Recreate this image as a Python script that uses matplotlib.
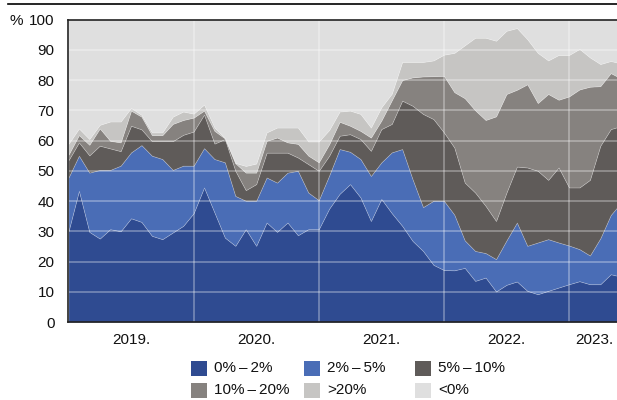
import numpy as np
import matplotlib
matplotlib.use("Agg")
import matplotlib.pyplot as plt
from matplotlib.patches import Rectangle
from matplotlib.lines import Line2D

plt.rcParams['font.family'] = ['Liberation Sans', 'DejaVu Sans']

# monthly observations, Jan 2019 .. Jun 2023
# cumulative level (%) at the top of each band, as read from the chart
top_0_2 = [30, 43.4, 29.8, 27.6, 30.7, 30, 34.3, 33.1, 28.5, 27.4, 29.6, 31.8,
           36, 44.5, 36.2, 27.9, 25.2, 30.7, 25.2, 32.9, 29.8, 32.9, 28.7, 30.7,
           30.7, 37.5, 42.4, 45.6, 41.2, 33.4, 40.7, 36, 31.8, 26.8, 23.5, 18.9,
           17.2, 17.1, 17.9, 13.6, 14.7, 10.1, 12.3, 13.4, 10.3, 9.2, 10.3, 11.4,
           12.5, 13.5, 12.5, 12.5, 15.8, 15]
top_2_5 = [47.8, 55, 49.4, 50.3, 50.3, 51.7, 56.1, 58.5, 55, 53.9, 50.3, 51.7,
           51.7, 57.5, 53.9, 52.8, 41.7, 40.1, 40.1, 47.8, 46.1, 49.4, 50, 42.8,
           40.3, 48.5, 57.2, 56.3, 53.9, 48.3, 52.8, 56.1, 57.2, 47.2, 38, 40.1,
           40.1, 35.5, 27, 23.5, 22.8, 20.8, 27, 32.9, 25.2, 26.3, 27.4, 26.3,
           25.3, 24.1, 22, 27.7, 35.4, 39.5]
top_5_10 = [53.5, 59.4, 55.1, 58.3, 57.4, 56.5, 64.9, 63.7, 59.8, 59.8, 59.8, 61.9,
            63, 68.6, 59, 60.5, 50, 43.6, 45.6, 56, 56, 56, 54.4, 52.2,
            50, 55, 61.6, 62.1, 60.5, 56.6, 63.8, 65.5, 73.2, 71.5, 68.8, 67.1,
            62.7, 57.7, 46.1, 42.8, 38.4, 33.4, 42.8, 51.4, 51.1, 50, 47, 51.1,
            44.5, 44.5, 47, 58.3, 63.8, 64.8]
top_10_20 = [55.3, 61.8, 58.6, 64, 59.9, 59.4, 69.9, 67.9, 61.8, 61.8, 65.5, 66.8,
             67.6, 69.9, 63.2, 60.7, 52.5, 49.4, 49.4, 59.9, 61, 59.4, 58.9, 55,
             52.8, 58.8, 66.2, 64.9, 63.2, 61, 66.6, 73.3, 80, 80.9, 81.2, 81.3,
             81.4, 76, 74, 70, 66.8, 68, 75.4, 76.8, 78.6, 72.4, 75.4, 73.5,
             74.6, 76.9, 77.8, 78, 82.3, 80.5]
top_over_20 = [58.9, 64, 60.5, 65.2, 66.3, 66.3, 70.8, 68.5, 62.7, 62.7, 67.9, 69.6,
               68.9, 71.9, 64.3, 60.9, 52.6, 51.6, 52.4, 62.7, 64.3, 64.3, 64.3, 59.7,
               59.7, 63.5, 69.6, 69.9, 68.8, 64.3, 71, 75.5, 86, 86, 86, 86.5,
               88.4, 89, 91.5, 94, 94, 93, 96.3, 97.2, 93.5, 89, 86.5, 88.3,
               88.3, 90.3, 87.5, 85.3, 86.3, 85.5]
top_below_0 = [100] * 54

labels = ['0%\u2009–\u20092%', '2%\u2009–\u20095%', '5%\u2009–\u200910%',
          '10%\u2009–\u200920%', '>20%', '<0%']
colors = ['#2f4b91', '#4a6db6', '#5f5b59', '#86827f', '#c6c5c3', '#dfdfdf']
years = ['2019.', '2020.', '2021.', '2022.', '2023.']

tops = np.array([top_0_2, top_2_5, top_5_10, top_10_20, top_over_20, top_below_0])
shares = np.diff(np.vstack([np.zeros(tops.shape[1]), tops]), axis=0)
x = np.arange(tops.shape[1])

W, H = 617, 400
fig = plt.figure(figsize=(W / 100, H / 100), dpi=100)
ax = fig.add_axes([0.111, 0.195, 0.889, 0.756])

ax.stackplot(x, shares, colors=colors, edgecolor=(1, 1, 1, 0.25), linewidth=0.5)

# white grid drawn over the areas
for v in range(10, 100, 10):
    ax.axhline(v, color='white', alpha=0.35, lw=1.2, zorder=5)
for v in [12, 24, 36, 48]:
    ax.axvline(v, color='white', alpha=0.35, lw=1.2, zorder=5)

ax.set_xlim(0, 52.6)
ax.set_ylim(0, 100)
ax.set_yticks(range(0, 101, 10))
ax.set_xticks([6, 18, 30, 42, 50.4])
ax.set_xticklabels(years)
ax.tick_params(length=0, labelsize=11, colors='#111111')
ax.tick_params(axis='y', pad=10)
ax.tick_params(axis='x', pad=8)

for s in ['left', 'bottom', 'top']:
    ax.spines[s].set_color('#222222')
    ax.spines[s].set_linewidth(1.2)
    ax.spines[s].set_zorder(6)
ax.spines['right'].set_visible(False)

fig.text(0.016, 0.948, '%', fontsize=11, ha='left', va='center', color='#111111')
fig.add_artist(Line2D([0.013, 1.0], [0.99, 0.99], color='black', lw=1.2,
                      transform=fig.transFigure))

# legend: 3 columns x 2 rows with fixed column pitch
col_x = [191, 304, 415]
row_y = [368, 390]
for i, (lab, c) in enumerate(zip(labels, colors)):
    cx = col_x[i % 3]
    cy = row_y[i // 3]
    fig.add_artist(Rectangle((cx / W, (H - cy - 7.5) / H), 16 / W, 15 / H,
                             facecolor=c, edgecolor='none',
                             transform=fig.transFigure))
    fig.text((cx + 23) / W, (H - cy) / H, lab, fontsize=11, ha='left',
             va='center', color='#111111')

fig.savefig('out.png', dpi=100)
